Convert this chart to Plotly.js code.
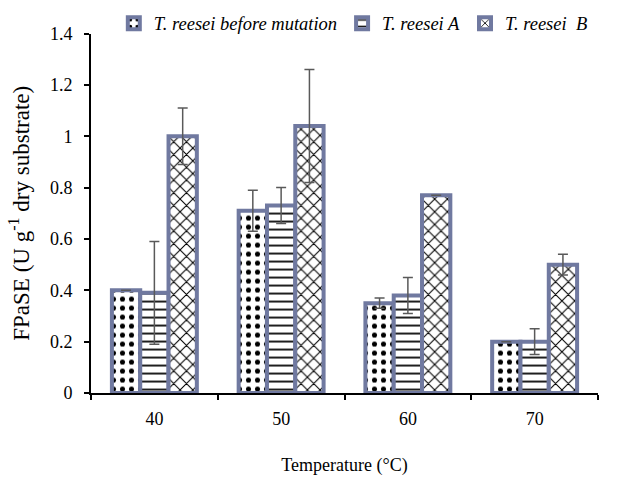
<!DOCTYPE html>
<html><head><meta charset="utf-8">
<script src="https://cdn.plot.ly/plotly-3.0.1.min.js"></script>
<style>body{margin:0;}#chart{width:619px;height:477px;}</style>
</head><body><div id="chart"></div>
<script>
const categories = ['40', '50', '60', '70'];
const seriesNames = ['T. reesei before mutation', 'T. reesei A', 'T. reesei  B'];
const beforeValues = [0.40, 0.71, 0.35, 0.20];
const beforeErrors = [0.00, 0.08, 0.02, 0.00];
const aValues = [0.39, 0.73, 0.38, 0.20];
const aErrors = [0.20, 0.07, 0.07, 0.05];
const bValues = [1.00, 1.04, 0.77, 0.50];
const bErrors = [0.11, 0.22, 0.00, 0.04];
const yTicks = [0, 0.2, 0.4, 0.6, 0.8, 1, 1.2, 1.4];

const shapes = ['.', '-', 'x'];
const vals = [beforeValues, aValues, bValues];
const errs = [beforeErrors, aErrors, bErrors];
const traces = vals.map((v, i) => ({
  type: 'bar', x: categories, y: v, name: '<i>' + seriesNames[i] + '</i>',
  marker: {
    color: 'white',
    line: {color: '#7079a0', width: 4},
    pattern: {shape: shapes[i], fgcolor: 'black', bgcolor: 'white', size: i === 2 ? 9 : (i === 0 ? 9 : 8), solidity: i === 0 ? 0.25 : 0.22}
  },
  error_y: {type: 'data', array: errs[i], visible: true, color: '#595959', thickness: 1.5, width: 5}
}));

const FONT = 'Liberation Serif';
const layout = {
  width: 619, height: 477,
  margin: {l: 91, r: 21, t: 5, b: 84},
  paper_bgcolor: 'white', plot_bgcolor: 'white',
  font: {family: FONT, size: 18, color: 'black'},
  barmode: 'group', bargap: 0.33, bargroupgap: 0,
  showlegend: true,
  legend: {orientation: 'h', x: 0.045, xanchor: 'left', y: 0.972, yanchor: 'middle', font: {family: FONT, size: 18.5, color: 'black'}, itemwidth: 30, traceorder: 'normal', bgcolor: 'rgba(0,0,0,0)'},
  xaxis: {
    type: 'category', showline: true, linecolor: 'black', linewidth: 2,
    ticks: 'outside', tickson: 'boundaries', ticklen: 5, tickwidth: 2, tickcolor: 'black',
    ticklabelstandoff: 8, showgrid: false, tickfont: {family: FONT, size: 18, color: 'black'},
    title: {text: 'Temperature (°C)', standoff: 31, font: {family: FONT, size: 18, color: 'black'}}
  },
  yaxis: {
    domain: [0, 0.9459],
    range: [0, 1.4], tickvals: yTicks, ticktext: yTicks.map(String),
    showline: true, linecolor: 'black', linewidth: 2,
    ticks: 'outside', ticklen: 5, tickwidth: 2, tickcolor: 'black',
    showgrid: false, zeroline: false, ticklabelstandoff: 8, tickfont: {family: FONT, size: 18, color: 'black'},
    title: {text: 'FPaSE (U g<sup>-1</sup> dry substrate)', standoff: 14, font: {family: FONT, size: 23, color: 'black'}}
  }
};
Plotly.newPlot('chart', traces, layout, {displayModeBar: false});
</script></body></html>
